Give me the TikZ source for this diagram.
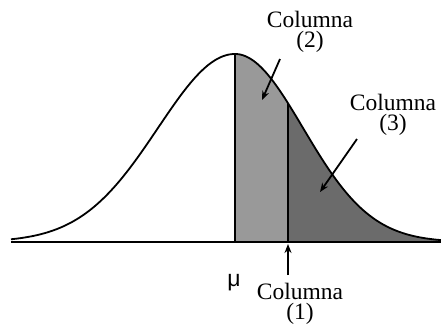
\documentclass[tikz,border=0pt]{standalone}
\usepackage{fontspec}
\setmainfont{Liberation Serif}
\newfontfamily\musans{Liberation Sans}
\usetikzlibrary{arrows.meta}
\begin{document}
\begin{tikzpicture}[x=1pt,y=-1pt,
  declare function={gl(\t)=242-188*exp(-0.5*((\t-235)/77)^2); gr(\t)=242-188*exp(-0.5*((\t-235)/68)^2);},
  lbl/.style={inner sep=0pt, align=center, font=\fontsize{23.5}{20}\selectfont},
  ptr/.style={line width=1.8pt, -{Stealth[length=9pt,width=7pt]}},
  outline/.style={line width=1.8pt, line join=round},
  lightregion/.style={fill=black!40},
  darkregion/.style={fill=black!58}]
\useasboundingbox (0,0) rectangle (441,325);
% shaded areas
\fill[lightregion] (235,242) -- plot[domain=235:288,samples=30] (\x,{gr(\x)}) -- (288,242) -- cycle;
\fill[darkregion] (288,242) -- plot[domain=288:441,samples=60] (\x,{gr(\x)}) -- (441,242) -- cycle;
% curve
\draw[outline] plot[domain=11:235,samples=90,smooth] (\x,{gl(\x)});
\draw[outline] plot[domain=235:441,samples=80,smooth] (\x,{gr(\x)});
% verticals and baseline
\draw[outline] (235,242) -- (235,{gr(235)});
\draw[outline] (288,242) -- (288,{gr(288)});
\draw[outline] (11,242) -- (441,242);
% labels
\node[lbl] (c2) at (310,32) {Columna\\(2)};
\node[lbl] (c3) at (393,115) {Columna\\(3)};
\node[lbl] (c1) at (300,304) {Columna\\(1)};
\node[inner sep=0pt, font=\musans\fontsize{23}{23}\selectfont] (mu) at (234,283) {μ};
% arrows
\coordinate (s2) at (280,59);
\coordinate (t2) at (262,100);
\coordinate (s3) at (357,139);
\coordinate (t3) at (320,192);
\coordinate (s1) at (288,275);
\coordinate (t1) at (288,244);
\draw[ptr] (s2) -- (t2);
\draw[ptr] (s3) -- (t3);
\draw[ptr] (s1) -- (t1);
\end{tikzpicture}
\end{document}
